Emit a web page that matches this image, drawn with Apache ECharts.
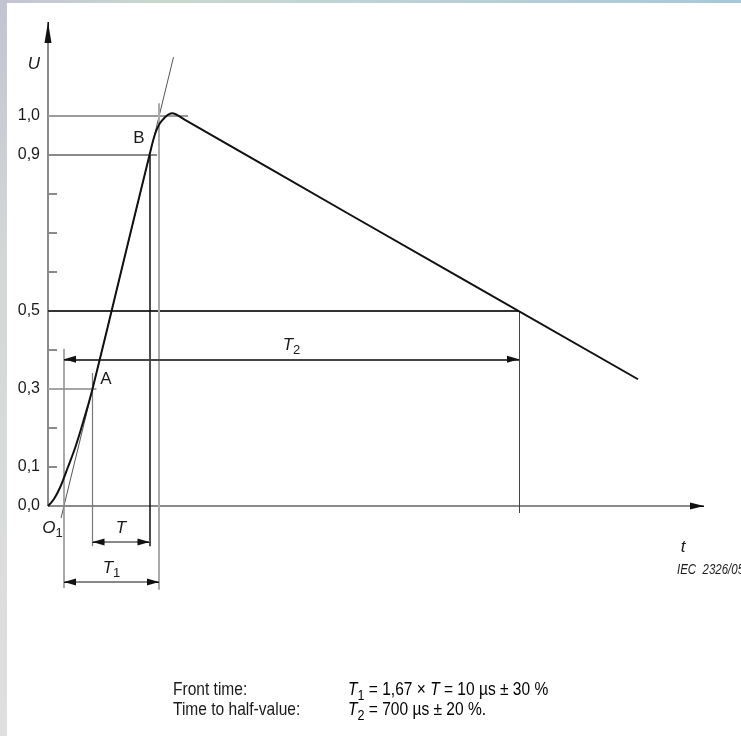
<!DOCTYPE html>
<html>
<head>
<meta charset="utf-8">
<title>Impulse voltage</title>
<script src="https://cdn.jsdelivr.net/npm/echarts@6/dist/echarts.min.js"></script>
<style>
  html, body { margin: 0; padding: 0; }
  body { width: 741px; height: 736px; position: relative; overflow: hidden; background: #fff; }
  #edgeTop { position: absolute; left: 0; top: 0; width: 741px; height: 3px;
    background: linear-gradient(to right, #c4c3d3 0%, #c9d9cf 22%, #bccfd6 60%, #a9c7d6 100%); }
  #edgeLeft { position: absolute; left: 0; top: 0; width: 7px; height: 736px;
    background: linear-gradient(to bottom, #c2c4d2 0%, #d2d8d6 35%, #dfe0de 100%); }
  #chart { position: absolute; left: 0; top: 0; width: 741px; height: 736px; }
</style>
</head>
<body>
<div id="edgeTop"></div>
<div id="edgeLeft"></div>
<div id="chart"></div>
<script>
const FONT = '"Liberation Sans", Arial, sans-serif';

// impulse wave (t in drawing units, U in per-unit)
const waveT = [0, 1.2, 2.5, 4.0, 5.5, 7.0, 8.9, 14.6, 20.3, 21.5, 22.7, 24.8, 27.4, 60, 118];
const waveU = [0, 0.018, 0.05, 0.10, 0.152, 0.214, 0.3, 0.6, 0.9, 0.957, 0.987, 1.007, 0.99, 0.75, 0.325];

// straight line through A and B (virtual origin O1)
const tangentT = [2.6, 25.1];
const tangentU = [-0.031, 1.151];

// y axis
const tickU = [0.1, 0.2, 0.4, 0.6, 0.7, 0.8];
const labelU = [0, 0.1, 0.3, 0.5, 0.9, 1.0];

// horizontal levels and where they stop
const levelU = [1.0, 0.9, 0.5, 0.3];
const levelEnd = [28, 21.8, 94.2, 9.7];

// verticals: O1, A, B, end of T1, end of T2
const markT = [3.2, 8.9, 20.3, 22.2, 94.2];
const markTop = [0.403, 0.341, 0.9, 1.033, 0.5];
const markBottom = [-0.21, -0.103, -0.103, -0.215, -0.018];

// dimension arrows
const dimName = ['T2', 'T', 'T1'];
const dimFrom = [3.2, 8.9, 3.2];
const dimTo = [94.2, 20.3, 22.2];
const dimU = [0.376, -0.092, -0.195];

// point notes
const noteText = ['U', 't', 'A', 'B', 'O1'];
const noteT = [-2.8, 127, 11.6, 18.2, 0.9];
const noteU = [1.133, -0.105, 0.326, 0.944, -0.058];

const rich = {
  n: { fontFamily: FONT, fontSize: 17, color: '#1a1a1a', lineHeight: 22 },
  i: { fontFamily: FONT, fontSize: 17, fontStyle: 'italic', color: '#1a1a1a', lineHeight: 22 },
  s: { fontFamily: FONT, fontSize: 13, color: '#1a1a1a', padding: [10, 0, 0, 0], lineHeight: 22 },
  g: { fontFamily: FONT, fontSize: 17, color: '#7a7a7a', lineHeight: 22 }
};
const richBottom = {
  n: { fontFamily: FONT, fontSize: 18.5, color: '#1a1a1a', lineHeight: 22 },
  i: { fontFamily: FONT, fontSize: 18.5, fontStyle: 'italic', color: '#1a1a1a', lineHeight: 22 },
  s: { fontFamily: FONT, fontSize: 15, color: '#1a1a1a', padding: [11, 0, 0, 0], lineHeight: 22 },
  g: { fontFamily: FONT, fontSize: 18.5, color: '#8a8a8a', lineHeight: 22 }
};

function richOf(name) {
  if (name.length === 2 && /\d/.test(name[1])) return '{i|' + name[0] + '}{s|' + name[1] + '}';
  if (name === 'U' || name === 't' || name === 'T') return '{i|' + name + '}';
  return '{n|' + name + '}';
}

function head(w, h) {
  return { symbol: 'triangle', symbolSize: [w, h], symbolOffset: [0, h / 2] };
}

function seg(a, b, style, fromSym, toSym, label) {
  const from = Object.assign({ coord: a, symbol: 'none' }, fromSym || {});
  const to = Object.assign({ coord: b, symbol: 'none' }, toSym || {});
  from.lineStyle = Object.assign({ type: 'solid' }, style);
  from.label = label || { show: false };
  return [from, to];
}

const axisStyle = { color: '#8a8a8a', width: 2 };
const headStyle = { color: '#111', width: 1 };
const levelStyle = [
  { color: '#9c9c9c', width: 2 },
  { color: '#8a8a8a', width: 2 },
  { color: '#333', width: 2 },
  { color: '#a6a6a6', width: 2 }
];
const markStyle = [
  { color: '#8c8c8c', width: 1.5 },
  { color: '#7a7a7a', width: 1.2 },
  { color: '#111', width: 1.5 },
  { color: '#aaaaaa', width: 2 },
  { color: '#444', width: 1 }
];
const dimStyle = [
  { color: '#444', width: 2 },
  { color: '#888', width: 2 },
  { color: '#888', width: 2 }
];

const lines = [];
// axes with black heads
lines.push(seg([0, 0], [0, 1.241], axisStyle));
lines.push(seg([0, 1.187], [0, 1.241], headStyle, null, head(7, 21)));
lines.push(seg([0, 0], [131.2, 0], axisStyle));
lines.push(seg([128.4, 0], [131.2, 0], headStyle, null, head(7, 14)));

levelU.forEach((u, i) => lines.push(seg([0, u], [levelEnd[i], u], levelStyle[i])));
markT.forEach((t, i) => lines.push(seg([t, markTop[i]], [t, markBottom[i]], markStyle[i])));
dimName.forEach((name, i) => {
  const u = dimU[i];
  lines.push(seg([dimFrom[i], u], [dimTo[i], u], dimStyle[i], null, null, {
    show: true,
    position: 'middle',
    distance: 3,
    formatter: richOf(name),
    rich: rich
  }));
  // black arrow heads at both ends (12 px long = 2.4 units)
  lines.push(seg([dimFrom[i] + 2.4, u], [dimFrom[i], u], headStyle, null, head(7, 12)));
  lines.push(seg([dimTo[i] - 2.4, u], [dimTo[i], u], headStyle, null, head(7, 12)));
});

const option = {
  animation: false,
  backgroundColor: 'transparent',
  grid: { left: 48, right: 18, top: 18.5, bottom: 132.5, outerBoundsMode: 'none' },
  xAxis: { type: 'value', min: 0, max: 135, show: false },
  yAxis: {
    type: 'value',
    min: -0.25,
    max: 1.25,
    axisLine: { show: false },
    splitLine: { show: false },
    axisTick: {
      show: true,
      inside: true,
      length: 9,
      customValues: tickU,
      lineStyle: { color: '#8a8a8a', width: 2 }
    },
    axisLabel: {
      customValues: labelU,
      margin: 8,
      fontFamily: FONT,
      fontSize: 16,
      color: '#1a1a1a',
      formatter: (v) => v.toFixed(1).replace('.', ',')
    }
  },
  series: [
    {
      name: 'tangent',
      type: 'line',
      data: tangentT.map((t, i) => [t, tangentU[i]]),
      symbol: 'none',
      silent: true,
      clip: false,
      z: 2,
      lineStyle: { color: '#555', width: 1 },
      markLine: {
        silent: true,
        symbol: ['none', 'none'],
        label: { show: false },
        emphasis: { disabled: true },
        lineStyle: { type: 'solid' },
        data: lines
      }
    },
    {
      name: 'wave',
      type: 'line',
      data: waveT.map((t, i) => [t, waveU[i]]),
      smooth: 0.35,
      symbol: 'none',
      silent: true,
      z: 5,
      lineStyle: { color: '#111', width: 2 }
    },
    {
      name: 'notes',
      type: 'scatter',
      symbolSize: 0,
      silent: true,
      clip: false,
      z: 6,
      itemStyle: { opacity: 1 },
      data: noteText.map((n, i) => ({ name: n, value: [noteT[i], noteU[i]] })),
      label: {
        show: true,
        position: 'inside',
        color: '#1a1a1a',
        formatter: (p) => richOf(p.name),
        rich: rich
      }
    }
  ],
  graphic: [
    { type: 'text', x: 677, y: 570, scaleX: 0.82, silent: true,
      style: { text: 'IEC  2326/05', font: 'italic 14px ' + FONT, fill: '#1a1a1a', verticalAlign: 'middle' } },
    { type: 'text', x: 173, y: 690, scaleX: 0.84, silent: true,
      style: { text: 'Front time:', font: '18.5px ' + FONT, fill: '#1a1a1a', verticalAlign: 'middle' } },
    { type: 'text', x: 173, y: 710, scaleX: 0.84, silent: true,
      style: { text: 'Time to half-value:', font: '18.5px ' + FONT, fill: '#1a1a1a', verticalAlign: 'middle' } },
    { type: 'text', x: 348, y: 690, scaleX: 0.84, silent: true,
      style: { text: '{i|T}{s|1}{n| = 1,67 }{g|\u00d7}{n| }{i|T}{n| = 10 \u00b5s \u00b1 30 %}', rich: richBottom, verticalAlign: 'middle' } },
    { type: 'text', x: 348, y: 710, scaleX: 0.84, silent: true,
      style: { text: '{i|T}{s|2}{n| = 700 \u00b5s \u00b1 20 %.}', rich: richBottom, verticalAlign: 'middle' } }
  ]
};

const chart = echarts.init(document.getElementById('chart'));
chart.setOption(option);
</script>
</body>
</html>
